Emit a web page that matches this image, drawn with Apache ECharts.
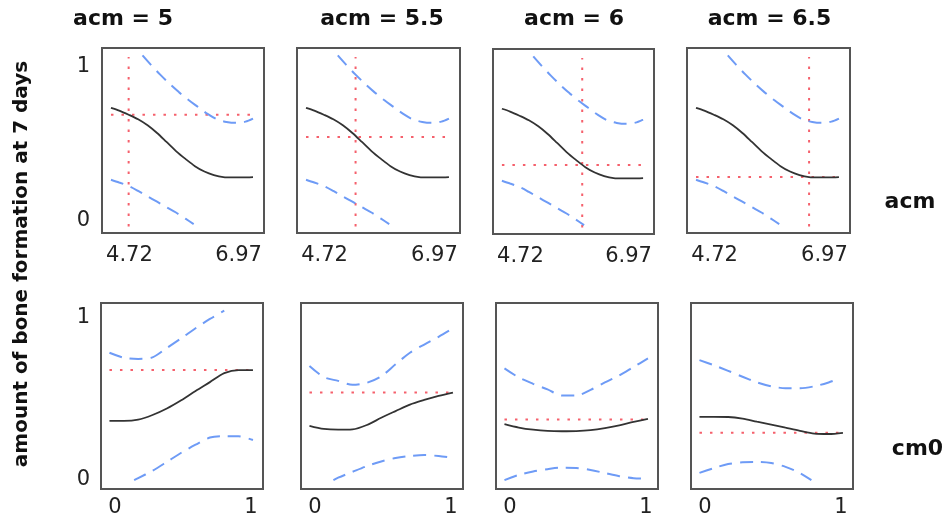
<!DOCTYPE html>
<html><head><meta charset="utf-8">
<script src="https://cdn.jsdelivr.net/npm/echarts@6/dist/echarts.min.js"></script>
<style>html,body{margin:0;padding:0;background:#fff}#c{width:946px;height:529px}</style>
</head><body><div id="c"></div>
<script>
// ---------- data ----------
const panelTitles = ['acm = 5', 'acm = 5.5', 'acm = 6', 'acm = 6.5'];
const rowLabels = ['acm', 'cm0'];
const yTitle = 'amount of bone formation at 7 days';
const acmCurrent = [5, 5.5, 6, 6.5];
const predCurrent = [0.685, 0.54, 0.365, 0.28];
const acmTicks = [4.72, 6.97];
const cm0Ticks = [0, 1];
const yTicks = [0, 1];

// top row: response vs acm (same in every panel)
const acmX     = [4.72, 4.85, 5.0, 5.15, 5.3, 5.45, 5.6, 5.75, 5.9, 6.05, 6.2, 6.35, 6.5, 6.65, 6.8, 6.97];
const acmFit   = [0.73, 0.712, 0.685, 0.655, 0.616, 0.566, 0.508, 0.449, 0.398, 0.351, 0.316, 0.293, 0.28, 0.278, 0.278, 0.28];
const acmUpperX = [5.22, 5.35, 5.5, 5.65, 5.8, 5.95, 6.1, 6.25, 6.4, 6.55, 6.7, 6.85, 6.97];
const acmUpper  = [1.07, 1.01, 0.945, 0.885, 0.83, 0.78, 0.735, 0.69, 0.655, 0.638, 0.632, 0.64, 0.66];
const acmLowerX = [4.72, 4.85, 5.0, 5.15, 5.3, 5.45, 5.6, 5.75, 5.9, 6.03];
const acmLower  = [0.263, 0.245, 0.222, 0.19, 0.155, 0.12, 0.085, 0.05, 0.01, -0.025];

// bottom row: response vs cm0 (one curve per acm panel)
const cm0X = [0, 0.1, 0.2, 0.3, 0.4, 0.5, 0.6, 0.7, 0.8, 0.9, 1];
const cm0Fit = [
  [0.357, 0.357, 0.365, 0.395, 0.437, 0.49, 0.55, 0.607, 0.665, 0.685, 0.685],
  [0.325, 0.305, 0.3, 0.302, 0.33, 0.377, 0.42, 0.462, 0.492, 0.518, 0.54],
  [0.336, 0.314, 0.3, 0.292, 0.29, 0.291, 0.297, 0.31, 0.328, 0.35, 0.37],
  [0.383, 0.383, 0.382, 0.372, 0.352, 0.333, 0.313, 0.293, 0.275, 0.272, 0.28]
];
const cm0UpperX = [
  [0, 0.1, 0.2, 0.3, 0.4, 0.5, 0.6, 0.7, 0.8],
  [0, 0.1, 0.2, 0.3, 0.4, 0.5, 0.6, 0.7, 0.8, 0.9, 1],
  [0, 0.1, 0.2, 0.3, 0.4, 0.5, 0.6, 0.7, 0.8, 0.9, 1],
  [0, 0.1, 0.2, 0.3, 0.4, 0.5, 0.6, 0.7, 0.8, 0.9, 0.96]
];
const cm0Upper = [
  [0.797, 0.765, 0.757, 0.767, 0.828, 0.89, 0.955, 1.015, 1.068],
  [0.711, 0.64, 0.615, 0.59, 0.603, 0.645, 0.722, 0.797, 0.85, 0.9, 0.954],
  [0.696, 0.637, 0.596, 0.56, 0.521, 0.52, 0.557, 0.605, 0.65, 0.705, 0.76],
  [0.749, 0.716, 0.68, 0.642, 0.606, 0.58, 0.568, 0.568, 0.58, 0.605, 0.625]
];
const cm0LowerX = [
  [0.172, 0.2, 0.3, 0.4, 0.5, 0.6, 0.7, 0.8, 0.9, 1],
  [0.167, 0.2, 0.3, 0.4, 0.5, 0.6, 0.7, 0.8, 0.9, 1],
  [0, 0.1, 0.2, 0.3, 0.4, 0.5, 0.6, 0.7, 0.8, 0.9, 0.977],
  [0, 0.1, 0.2, 0.3, 0.4, 0.5, 0.6, 0.7, 0.78]
];
const cm0Lower = [
  [-0.026, -0.013, 0.035, 0.092, 0.151, 0.203, 0.249, 0.258, 0.257, 0.233],
  [-0.026, -0.01, 0.028, 0.065, 0.095, 0.117, 0.13, 0.136, 0.13, 0.118],
  [-0.026, 0.008, 0.03, 0.045, 0.055, 0.053, 0.04, 0.02, 0, -0.013, -0.015],
  [0.021, 0.052, 0.078, 0.09, 0.092, 0.085, 0.06, 0.02, -0.026]
];
const crossYRange = [-0.04, 1.06];

// ---------- layout / style ----------
const FONT = 'DejaVu Sans';
const BLUE = '#6e9bf6', RED = '#f5606c', BLACK = '#333';
const grids = [
  {left: 102, top: 48, width: 162, height: 185},
  {left: 297, top: 48, width: 163, height: 185},
  {left: 493, top: 49, width: 161, height: 185},
  {left: 687, top: 48, width: 163, height: 185},
  {left: 101, top: 303, width: 162, height: 186},
  {left: 301, top: 303, width: 162, height: 186},
  {left: 496, top: 303, width: 162, height: 186},
  {left: 691, top: 303, width: 162, height: 186}
];
const Y_MIN = -0.083, Y_MAX = 1.118;
const zip = (xs, ys) => xs.map((x, i) => [x, ys[i]]);

const xAxes = [], yAxes = [], series = [];
const lblBase = {fontFamily: FONT, fontSize: 21, color: '#222'};

grids.forEach((g, i) => {
  const top = i < 4;
  const col = i % 4;
  const ticks = top ? acmTicks : cm0Ticks;
  const padL = top ? 37 : 11, padR = top ? 29 : 4;
  xAxes.push({
    type: 'value', gridIndex: i,
    min: top ? 4.578 : -0.059, max: top ? 7.144 : 1.07,
    axisLine: {show: false}, axisTick: {show: false}, splitLine: {show: false},
    axisLabel: Object.assign({}, lblBase, {
      customValues: ticks, margin: top ? 12 : 8,
      formatter: (v) => (v === ticks[0] ? '{a|' : '{b|') + String(v) + '}',
      rich: {
        a: Object.assign({}, lblBase, {padding: [0, 0, 0, padL]}),
        b: Object.assign({}, lblBase, {padding: [0, padR, 0, 0]})
      }
    })
  });
  yAxes.push({
    type: 'value', gridIndex: i, min: Y_MIN, max: Y_MAX,
    axisLine: {show: false}, axisTick: {show: false}, splitLine: {show: false},
    axisLabel: Object.assign({}, lblBase, {
      show: col === 0, customValues: yTicks, margin: top ? 12 : 11,
      formatter: (v) => (v === 0 ? '{a|' : '{b|') + String(v) + '}',
      rich: {
        a: Object.assign({}, lblBase, {padding: top ? 0 : [6, 0, 0, 0]}),
        b: Object.assign({}, lblBase, {padding: top ? 0 : [0, 0, 7, 0]})
      }
    })
  });
  const base = {type: 'line', xAxisIndex: i, yAxisIndex: i, showSymbol: false, symbol: 'none', silent: true, animation: false};
  const dash = {color: BLUE, width: 2, type: [13, 8]};
  const dot = {color: RED, width: 2, type: [2.5, 8]};
  if (top) {
    series.push(Object.assign({}, base, {data: [[acmTicks[0], predCurrent[col]], [acmTicks[1], predCurrent[col]]], lineStyle: dot}));
    series.push(Object.assign({}, base, {data: [[acmCurrent[col], crossYRange[0]], [acmCurrent[col], crossYRange[1]]], lineStyle: dot}));
    series.push(Object.assign({}, base, {data: zip(acmUpperX, acmUpper), smooth: 0.3, lineStyle: dash}));
    series.push(Object.assign({}, base, {data: zip(acmLowerX, acmLower), smooth: 0.3, lineStyle: dash}));
    series.push(Object.assign({}, base, {data: zip(acmX, acmFit), smooth: 0.3, lineStyle: {color: BLACK, width: 1.8}}));
  } else {
    series.push(Object.assign({}, base, {data: [[cm0Ticks[0], predCurrent[col]], [cm0Ticks[1], predCurrent[col]]], lineStyle: dot}));
    series.push(Object.assign({}, base, {data: zip(cm0UpperX[col], cm0Upper[col]), smooth: 0.3, lineStyle: dash}));
    series.push(Object.assign({}, base, {data: zip(cm0LowerX[col], cm0Lower[col]), smooth: 0.3, lineStyle: dash}));
    series.push(Object.assign({}, base, {data: zip(cm0X, cm0Fit[col]), smooth: 0.3, lineStyle: {color: BLACK, width: 1.8}}));
  }
});

const titleX = [123, 382, 574, 769.5];
const graphics = panelTitles.map((t, i) => ({
  type: 'text', x: titleX[i], y: 19.5, silent: true,
  style: {text: t, fontFamily: FONT, fontWeight: 'bold', fontSize: 22, fill: '#111', align: 'center', verticalAlign: 'middle'}
}));
graphics.push({type: 'text', x: 910, y: 202, silent: true,
  style: {text: rowLabels[0], fontFamily: FONT, fontWeight: 'bold', fontSize: 22, fill: '#111', align: 'center', verticalAlign: 'middle'}});
graphics.push({type: 'text', x: 917.5, y: 449, silent: true,
  style: {text: rowLabels[1], fontFamily: FONT, fontWeight: 'bold', fontSize: 22, fill: '#111', align: 'center', verticalAlign: 'middle'}});
graphics.push({type: 'text', x: 22, y: 264, rotation: Math.PI / 2, silent: true,
  style: {text: yTitle, fontFamily: FONT, fontWeight: 'bold', fontSize: 20, fill: '#111', align: 'center', verticalAlign: 'middle'}});

const chart = echarts.init(document.getElementById('c'), null, {renderer: 'canvas'});
chart.setOption({
  animation: false,
  backgroundColor: '#fff',
  grid: grids.map(g => Object.assign({show: true, borderColor: '#555', borderWidth: 2, backgroundColor: 'transparent', containLabel: false}, g)),
  xAxis: xAxes,
  yAxis: yAxes,
  series: series,
  graphic: graphics
});
</script></body></html>
